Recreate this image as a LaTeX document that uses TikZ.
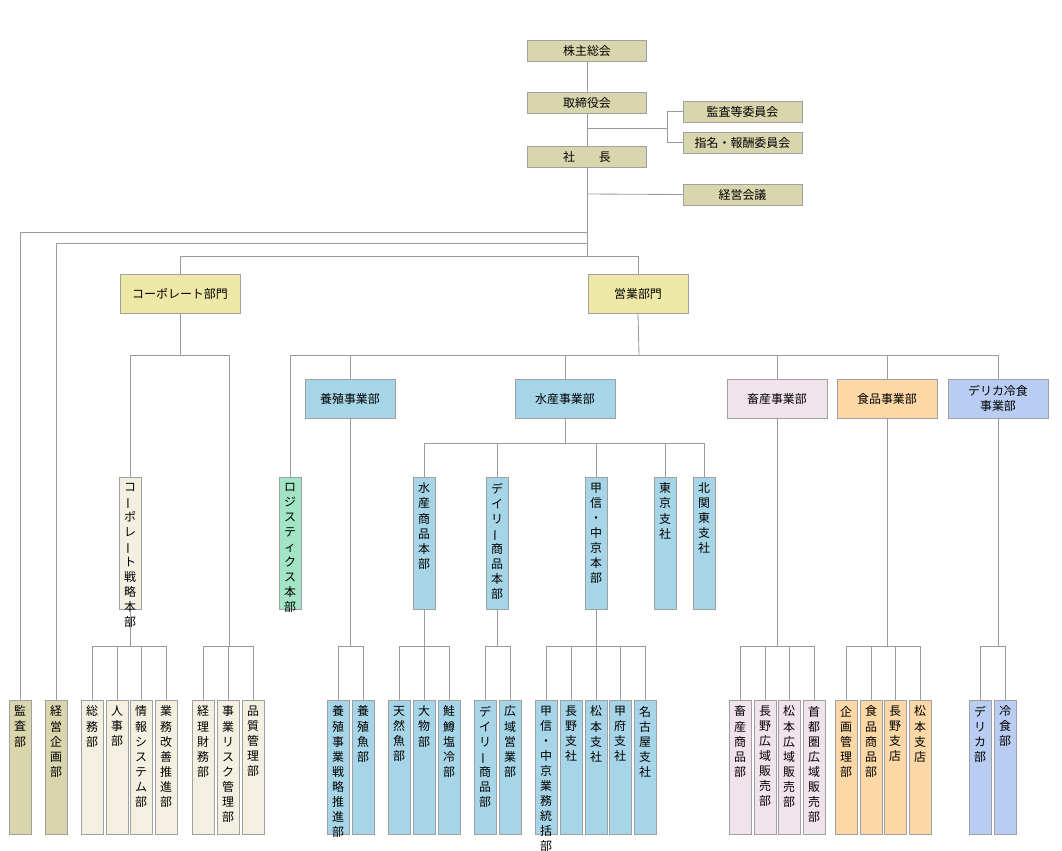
\documentclass[tikz,border=0pt]{standalone}
\usepackage{fontspec}
\setmainfont{Noto Sans CJK JP}
\usetikzlibrary{positioning}
\definecolor{linegray}{HTML}{9A9A9A}
\definecolor{boxgray}{HTML}{A0A0A0}
\definecolor{topc}{HTML}{D9D6AE}
\definecolor{divc}{HTML}{EEE8A6}
\definecolor{corpc}{HTML}{F3F0E1}
\definecolor{bluec}{HTML}{A6D5E8}
\definecolor{greenc}{HTML}{A1E4C6}
\definecolor{pinkc}{HTML}{F1E3EB}
\definecolor{orangec}{HTML}{FCD8A6}
\definecolor{lavc}{HTML}{B9CDF3}
% vertical box: name, x centre, top, bottom, colour, text
\newcommand{\vb}[6]{%
  \node[vbox, fill=#5, minimum height={(#4-#3)*0.025cm}] (#1) at (#2,#3) {};
  \node[vtxt] (#1-t) at (#1.north) {#6};}
\newcommand{\vl}{\rotatebox[origin=c]{90}{ー}}
\begin{document}
\begin{tikzpicture}
[x=0.025cm, y=-0.025cm,
 box/.style={rectangle, draw=boxgray, inner sep=0pt, font=\fontsize{8.5}{10.5}\selectfont},
 topbox/.style={box, fill=topc, minimum width=2.975cm, minimum height=0.525cm},
 divbox/.style={box, minimum width=2.5cm, minimum height=0.97cm, align=center},
 vbox/.style={box, anchor=north, minimum width=0.55cm},
 vtxt/.style={anchor=north, yshift=-4pt, inner sep=0pt, align=center,
   font=\fontsize{8.5}{10.7}\selectfont},
 conn/.style={draw=linegray, line width=0.6pt}]
\useasboundingbox (0,0) rectangle (1062,850);
% top management
\node[topbox] (kabu) at (587,50.5) {株主総会};
\node[topbox] (tori) at (587,102.5) {取締役会};
\node[topbox] (shacho) at (587,156.5) {社\hspace{2em}長};
\node[topbox] (kansaiin) at (742.5,111.5) {監査等委員会};
\node[topbox] (shimei) at (742.5,142.5) {指名・報酬委員会};
\node[topbox] (kaigi) at (742.5,194.5) {経営会議};
\coordinate (j1) at (587,128);
\coordinate (j2) at (667,128);
\coordinate (s0) at (587,256);
\coordinate (c1) at (587,232);
\coordinate (c2) at (587,243);
\coordinate (c3) at (587,194);
\draw[conn] (kabu) -- (tori);
\draw[conn] (tori) -- (shacho);
\draw[conn] (j1) -- (j2);
\draw[conn] (j2) |- (kansaiin.west);
\draw[conn] (j2) |- (shimei.west);
\draw[conn] (shacho) -- (s0);
\draw[conn] (c3) -- (kaigi.west);
% departments
\node[divbox, fill=divc, minimum width=3cm] (corp) at (180,294) {コーポレート部門};
\node[divbox, fill=divc] (eigyo) at (638,294) {営業部門};
\vb{kansabu}{20}{700}{834}{topc}{監\\査\\部}
\vb{keikaku}{56}{700}{834}{topc}{経\\営\\企\\画\\部}
\draw[conn] (c1) -| (kansabu.north);
\draw[conn] (c2) -| (keikaku.north);
\draw[conn] (s0) -| (corp.north);
\draw[conn] (s0) -| (eigyo.north);
% corporate
\coordinate (bc) at (180,355);
\coordinate (bk) at (229,355);
\coordinate (bk2) at (229,646);
\vb{senryaku}{130}{477}{609}{corpc}{コ\\\vl\\ポ\\レ\\\vl\\ト\\戦\\略\\本\\部}
\vb{somu}{92}{700}{834}{corpc}{総\\務\\部}
\vb{jinji}{117}{700}{834}{corpc}{人\\事\\部}
\vb{joho}{141}{700}{834}{corpc}{情\\報\\シ\\ス\\テ\\ム\\部}
\vb{gyomu}{166}{700}{834}{corpc}{業\\務\\改\\善\\推\\進\\部}
\vb{keiri}{203}{700}{834}{corpc}{経\\理\\財\\務\\部}
\vb{risk}{228}{700}{834}{corpc}{事\\業\\リ\\ス\\ク\\管\\理\\部}
\vb{hinshitsu}{253}{700}{834}{corpc}{品\\質\\管\\理\\部}
\coordinate (bs) at (130,646);
\draw[conn] (corp.south) -- (bc);
\draw[conn] (bc) -| (senryaku.north);
\draw[conn] (bc) -| (bk2);
\draw[conn] (senryaku.south) -- (bs);
\draw[conn] (bs) -| (somu.north);
\draw[conn] (bs) -| (jinji.north);
\draw[conn] (bs) -| (joho.north);
\draw[conn] (bs) -| (gyomu.north);
\draw[conn] (bk2) -| (keiri.north);
\draw[conn] (bk2) -| (risk.north);
\draw[conn] (bk2) -| (hinshitsu.north);
% sales
\coordinate (be) at (639,355);
\node[divbox, fill=bluec, minimum width=2.25cm] (yoshoku) at (350,398.5) {養殖事業部};
\node[divbox, fill=bluec] (suisan) at (565,398.5) {水産事業部};
\node[divbox, fill=pinkc] (chikusan) at (777,398.5) {畜産事業部};
\node[divbox, fill=orangec] (shokuhin) at (887,398.5) {食品事業部};
\node[divbox, fill=lavc] (derika) at (998,398.5) {デリカ冷食\\事業部};
\vb{logi}{290}{477}{609}{greenc}{ロ\\ジ\\ス\\テ\\ィ\\ク\\ス\\本\\部}
\draw[conn] (eigyo.south) -- (be);
\draw[conn] (be) -| (logi.north);
\draw[conn] (be) -| (yoshoku.north);
\draw[conn] (be) -| (suisan.north);
\draw[conn] (be) -| (chikusan.north);
\draw[conn] (be) -| (shokuhin.north);
\draw[conn] (be) -| (derika.north);
% aquaculture
\coordinate (by) at (350,646);
\vb{ysenryaku}{338}{700}{834}{bluec}{養\\殖\\事\\業\\戦\\略\\推\\進\\部}
\vb{ygyo}{363}{700}{834}{bluec}{養\\殖\\魚\\部}
\draw[conn] (yoshoku.south) -- (by);
\draw[conn] (by) -| (ysenryaku.north);
\draw[conn] (by) -| (ygyo.north);
% marine products
\coordinate (bsu) at (565,443);
\vb{suihin}{424}{477}{609}{bluec}{水\\産\\商\\品\\本\\部}
\vb{daily}{497}{477}{609}{bluec}{デ\\イ\\リ\\\vl\\商\\品\\本\\部}
\vb{koshin}{596}{477}{609}{bluec}{甲\\信\\・\\中\\京\\本\\部}
\vb{tokyo}{665}{477}{609}{bluec}{東\\京\\支\\社}
\vb{kitakanto}{704}{477}{609}{bluec}{北\\関\\東\\支\\社}
\draw[conn] (suisan.south) -- (bsu);
\draw[conn] (bsu) -| (suihin.north);
\draw[conn] (bsu) -| (daily.north);
\draw[conn] (bsu) -| (koshin.north);
\draw[conn] (bsu) -| (tokyo.north);
\draw[conn] (bsu) -| (kitakanto.north);
\coordinate (bsh) at (424,646);
\vb{tennen}{399}{700}{834}{bluec}{天\\然\\魚\\部}
\vb{omono}{424}{700}{834}{bluec}{大\\物\\部}
\vb{sake}{449}{700}{834}{bluec}{鮭\\鱒\\塩\\冷\\部}
\draw[conn] (suihin.south) -- (bsh);
\draw[conn] (bsh) -| (tennen.north);
\draw[conn] (bsh) -| (omono.north);
\draw[conn] (bsh) -| (sake.north);
\coordinate (bd) at (497,646);
\vb{dshohin}{485}{700}{834}{bluec}{デ\\イ\\リ\\\vl\\商\\品\\部}
\vb{koiki}{510}{700}{834}{bluec}{広\\域\\営\\業\\部}
\draw[conn] (daily.south) -- (bd);
\draw[conn] (bd) -| (dshohin.north);
\draw[conn] (bd) -| (koiki.north);
\coordinate (bko) at (596,646);
\vb{tokatsu}{546}{700}{834}{bluec}{甲\\信\\・\\中\\京\\業\\務\\統\\括\\部}
\vb{nagano}{571}{700}{834}{bluec}{長\\野\\支\\社}
\vb{matsumoto}{596}{700}{834}{bluec}{松\\本\\支\\社}
\vb{kofu}{620}{700}{834}{bluec}{甲\\府\\支\\社}
\vb{nagoya}{645}{700}{834}{bluec}{名\\古\\屋\\支\\社}
\draw[conn] (koshin.south) -- (bko);
\draw[conn] (bko) -| (tokatsu.north);
\draw[conn] (bko) -| (nagano.north);
\draw[conn] (bko) -| (matsumoto.north);
\draw[conn] (bko) -| (kofu.north);
\draw[conn] (bko) -| (nagoya.north);
% livestock
\coordinate (bch) at (777,646);
\vb{chshohin}{740}{700}{834}{pinkc}{畜\\産\\商\\品\\部}
\vb{nkoiki}{765}{700}{834}{pinkc}{長\\野\\広\\域\\販\\売\\部}
\vb{mkoiki}{789}{700}{834}{pinkc}{松\\本\\広\\域\\販\\売\\部}
\vb{shuto}{814}{700}{834}{pinkc}{首\\都\\圏\\広\\域\\販\\売\\部}
\draw[conn] (chikusan.south) -- (bch);
\draw[conn] (bch) -| (chshohin.north);
\draw[conn] (bch) -| (nkoiki.north);
\draw[conn] (bch) -| (mkoiki.north);
\draw[conn] (bch) -| (shuto.north);
% food
\coordinate (bf) at (887,646);
\vb{kikaku}{846}{700}{834}{orangec}{企\\画\\管\\理\\部}
\vb{fshohin}{871}{700}{834}{orangec}{食\\品\\商\\品\\部}
\vb{nshiten}{895}{700}{834}{orangec}{長\\野\\支\\店}
\vb{mshiten}{920}{700}{834}{orangec}{松\\本\\支\\店}
\draw[conn] (shokuhin.south) -- (bf);
\draw[conn] (bf) -| (kikaku.north);
\draw[conn] (bf) -| (fshohin.north);
\draw[conn] (bf) -| (nshiten.north);
\draw[conn] (bf) -| (mshiten.north);
% delica
\coordinate (bde) at (998,646);
\vb{derikabu}{980}{700}{834}{lavc}{デ\\リ\\カ\\部}
\vb{reishoku}{1005}{700}{834}{lavc}{冷\\食\\部}
\draw[conn] (derika.south) -- (bde);
\draw[conn] (bde) -| (derikabu.north);
\draw[conn] (bde) -| (reishoku.north);
\end{tikzpicture}
\end{document}
